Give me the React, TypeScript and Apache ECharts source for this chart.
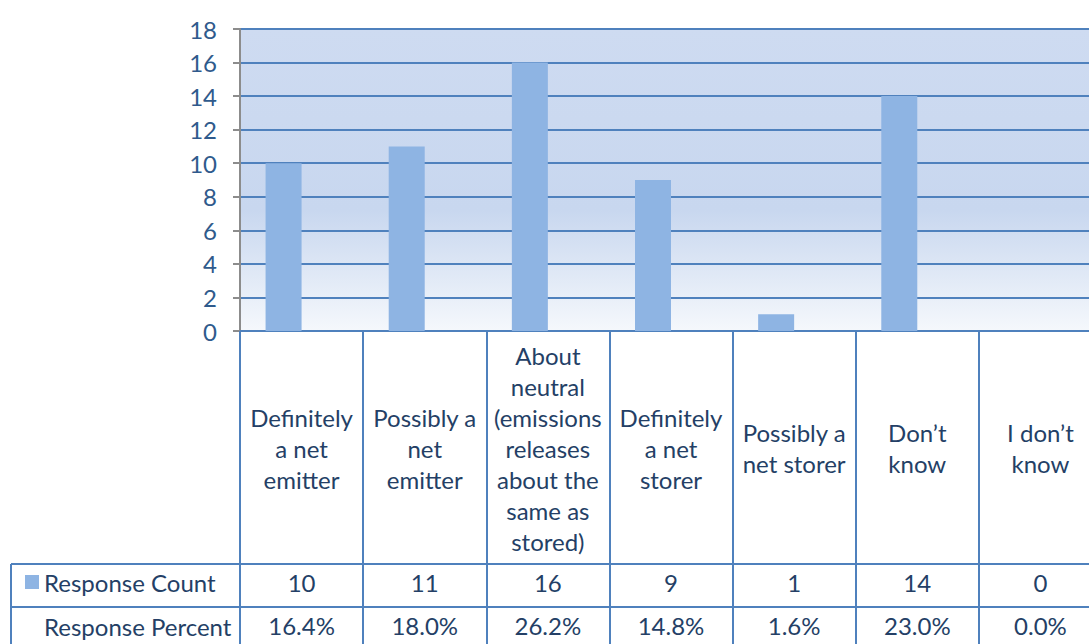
import React, { useEffect, useRef } from "react";
import * as echarts from "echarts";

const categories = [
  "Definitely\na net\nemitter",
  "Possibly a\nnet\nemitter",
  "About\nneutral\n(emissions\nreleases\nabout the\nsame as\nstored)",
  "Definitely\na net\nstorer",
  "Possibly a\nnet storer",
  "Don’t\nknow",
  "I don’t\nknow",
];
const responseCount = [10, 11, 16, 9, 1, 14, 0];
const responsePercent = [16.4, 18.0, 26.2, 14.8, 1.6, 23.0, 0.0];
const yTicks = { min: 0, max: 18, interval: 2 };

const FONT = "Lato, 'Noto Sans', sans-serif";
const LINE = "#4F81BD";
const TEXT = "#243F66";
const FS = 24;

export default function App() {
  const ref = useRef<HTMLDivElement>(null);
  useEffect(() => {
    document.body.style.margin = "0";
    const chart = echarts.init(ref.current!, null, { renderer: "svg" });
    const countLabels = responseCount.map((v) => String(v));
    const percentLabels = responsePercent.map((v) => v.toFixed(1) + "%");
    const hiddenAxis = (data: string[], margin: number, idx: number) => ({
      type: "category",
      data,
      gridIndex: 0,
      position: "bottom",
      axisLine: { show: false },
      axisTick: { show: false },
      axisLabel: {
        interval: 0,
        margin,
        verticalAlign: "middle",
        fontFamily: FONT,
        fontSize: FS,
        color: TEXT,
      },
      id: "x" + idx,
    });
    const legendBase = {
      left: 20,
      itemWidth: 14,
      itemHeight: 14,
      selectedMode: false,
      icon: "rect",
      textStyle: { fontFamily: FONT, fontSize: FS, color: TEXT },
    };
    chart.setOption({
      animation: false,
      textStyle: { fontFamily: FONT },
      grid: {
        left: 240,
        top: 29,
        right: 8,
        height: 302,
        show: true,
        borderWidth: 0,
        backgroundColor: {
          type: "linear",
          x: 0,
          y: 0,
          x2: 0,
          y2: 1,
          colorStops: [
            { offset: 0, color: "#CEDBF1" },
            { offset: 0.6, color: "#C8D7EF" },
            { offset: 1, color: "#F5F8FC" },
          ],
        },
      },
      legend: [
        { ...legendBase, top: 565, data: ["Response Count"] },
        { ...legendBase, top: 609, data: ["Response Percent"] },
      ],
      xAxis: [
        {
          type: "category",
          data: categories,
          boundaryGap: true,
          axisLine: { show: true, lineStyle: { color: LINE, width: 2 } },
          axisTick: {
            show: true,
            interval: 0,
            length: 320,
            lineStyle: { color: LINE, width: 2 },
          },
          axisLabel: {
            interval: 0,
            margin: 117,
            verticalAlign: "middle",
            lineHeight: 31,
            fontFamily: FONT,
            fontSize: FS,
            color: TEXT,
          },
        },
        hiddenAxis(countLabels, 251, 1),
        hiddenAxis(percentLabels, 294, 2),
      ],
      yAxis: {
        type: "value",
        min: yTicks.min,
        max: yTicks.max,
        interval: yTicks.interval,
        axisLine: { show: true, lineStyle: { color: "#8C8C8C", width: 2 } },
        axisTick: { show: true, length: 7, lineStyle: { color: "#8C8C8C", width: 2 } },
        axisLabel: { margin: 23, fontFamily: FONT, fontSize: FS, color: "#2F5A8C" },
        splitLine: { show: true, lineStyle: { color: LINE, width: 2 } },
      },
      graphic: [
        { type: "line", shape: { x1: 11, y1: 564, x2: 1110, y2: 564 }, style: { stroke: LINE, lineWidth: 2 } },
        { type: "line", shape: { x1: 11, y1: 607, x2: 1110, y2: 607 }, style: { stroke: LINE, lineWidth: 2 } },
        { type: "line", shape: { x1: 11, y1: 564, x2: 11, y2: 650 }, style: { stroke: LINE, lineWidth: 2 } },
      ],
      series: [
        {
          name: "Response Count",
          type: "bar",
          data: responseCount,
          barWidth: 36,
          barGap: "0%",
          itemStyle: { color: "#8EB4E3" },
        },
        {
          name: "Response Percent",
          type: "bar",
          data: responsePercent.map((v) => v / 100),
          barWidth: 36,
          barGap: "0%",
          itemStyle: { color: "rgba(255,255,255,0)" },
        },
      ],
    });
    return () => chart.dispose();
  }, []);
  return (
    <div style={{ width: 1089, height: 644, overflow: "hidden", background: "#fff" }}>
      <div ref={ref} style={{ width: 1110, height: 644 }} />
    </div>
  );
}
